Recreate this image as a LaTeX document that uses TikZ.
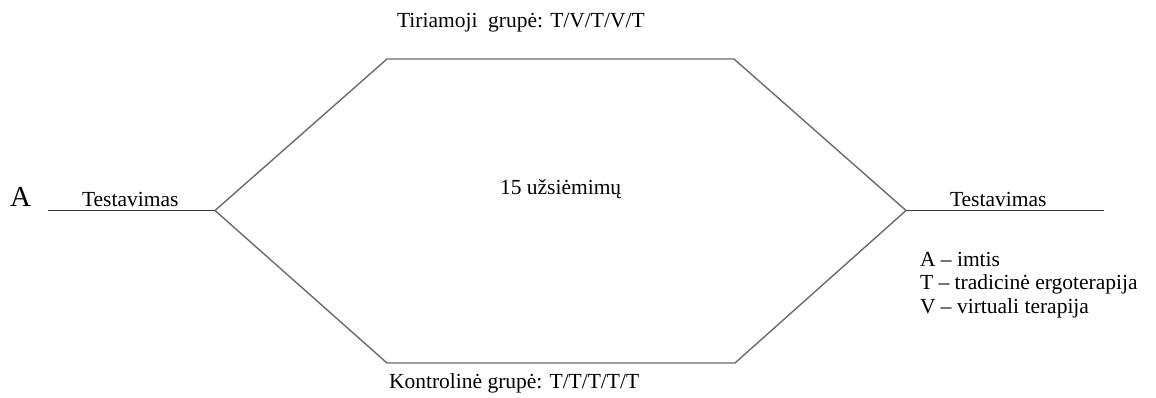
\documentclass[tikz,border=0pt]{standalone}
\usepackage{fontspec}
\setmainfont{Liberation Serif}
\begin{document}
\begin{tikzpicture}[x=1pt,y=-1pt,
  lbl/.style={inner sep=0pt,outer sep=0pt,anchor=base west,font=\fontsize{21.5}{24}\selectfont},
  bigA/.style={inner sep=0pt,outer sep=0pt,anchor=base west,font=\fontsize{29}{32}\selectfont},
  baseline/.style={draw=black!78,line width=1.3pt},
  arm/.style={draw=black!58,line width=1.4pt}]
\useasboundingbox (0,0) rectangle (1156,398);
% vertices of the two study paths
\coordinate (start) at (48,210.5);
\coordinate (split) at (215,210.5);
\coordinate (topL) at (387,59);
\coordinate (topR) at (734,59);
\coordinate (join) at (906,210.5);
\coordinate (botR) at (735,363);
\coordinate (botL) at (387,363);
\coordinate (finish) at (1104,210.5);
% lines
\draw[baseline] (start) -- (split);
\draw[baseline] (join) -- (finish);
\draw[arm,line join=miter] (split) -- (topL) -- (topR) -- (join);
\draw[arm,line join=miter] (split) -- (botL) -- (botR) -- (join);
% labels
\node[bigA] (a) at (10,207) {A};
\node[lbl] (test1) at (82,207) {Testavimas};
\node[lbl] (test2) at (950,207) {Testavimas};
\node[lbl] (exp) at (397,28) {Tiriamoji\ \ grupė: T/V/T/V/T};
\node[lbl] (ctrl) at (389,388) {Kontrolinė grupė: T/T/T/T/T};
\node[lbl] (sess) at (500,195) {15 užsiėmimų};
% legend
\node[lbl] (legA) at (920,266) {A – imtis};
\node[lbl] (legT) at (920,289.5) {T – tradicinė ergoterapija};
\node[lbl] (legV) at (920,313) {V – virtuali terapija};
\end{tikzpicture}
\end{document}
